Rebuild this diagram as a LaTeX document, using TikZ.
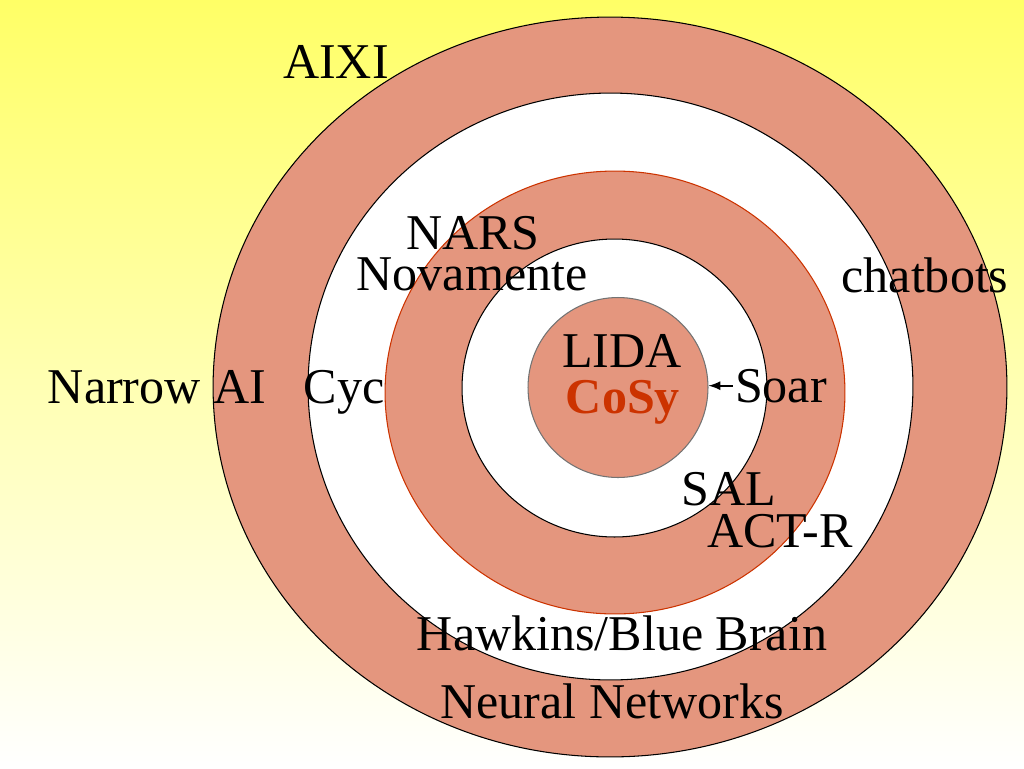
\documentclass[tikz,border=0pt]{standalone}
\usepackage{fontspec}
\setmainfont{Liberation Serif}
\usepackage{xcolor}
\usetikzlibrary{arrows}
\definecolor{salmon}{RGB}{228,150,126}
\definecolor{paleyellow}{RGB}{255,255,102}
\definecolor{cosyred}{RGB}{204,51,0}
\begin{document}
\begin{tikzpicture}[x=0.02cm, y=-0.02cm, semithick]
	\tikzstyle{lbl}=[anchor=base, inner sep=1pt, font=\fontsize{28.5}{30}\selectfont]
	\tikzstyle{ring}=[line width=0.6pt]
		% background
		\shade[top color=paleyellow, bottom color=white] (0,0) rectangle (1024,768);
		\useasboundingbox (0,0) rectangle (1024,768);
		% rings, outside in
		\foreach \cx/\cy/\rx/\ry/\col/\edge in {610/387/7.94/7.40/salmon/black, 610.5/386.5/6.05/5.87/white/black, 615/392.5/4.60/4.43/salmon/cosyred, 614.5/388/3.05/2.98/white/black}{
			\draw[ring, fill=\col, draw=\edge] (\cx,\cy) ellipse [x radius=\rx cm, y radius=\ry cm];
			}
		\node[circle, ring, minimum size=3.6cm, inner sep=0pt, fill=salmon, draw=black!55] (core) at (618,387.5) {};
		% labels
		\node[lbl] (aixi) at (336,78) {AIXI};
		\node[lbl] (nars) at (473,249) {NARS};
		\node[lbl] (nova) at (472,290) {Novamente};
		\node[lbl] (chat) at (925,292) {chatbots};
		\node[lbl] (narrow) at (157,403) {Narrow AI};
		\node[lbl] (cyc) at (344,403) {Cyc};
		\node[lbl] (lida) at (622,367) {LIDA};
		\node[lbl, text=cosyred, font=\fontsize{28.5}{30}\selectfont\bfseries] (cosy) at (623,413) {CoSy};
		\node[lbl] (soar) at (781,402) {Soar};
		\node[lbl] (sal) at (729,505) {SAL};
		\node[lbl] (actr) at (780,547) {ACT-R};
		\node[lbl] (hawk) at (622,650) {Hawkins/Blue Brain};
		\node[lbl] (nn) at (612,718) {Neural Networks};
		\draw[-latex, line width=1.3pt] (soar.west) -- (soar.west -| core.east);
\end{tikzpicture}
\end{document}
